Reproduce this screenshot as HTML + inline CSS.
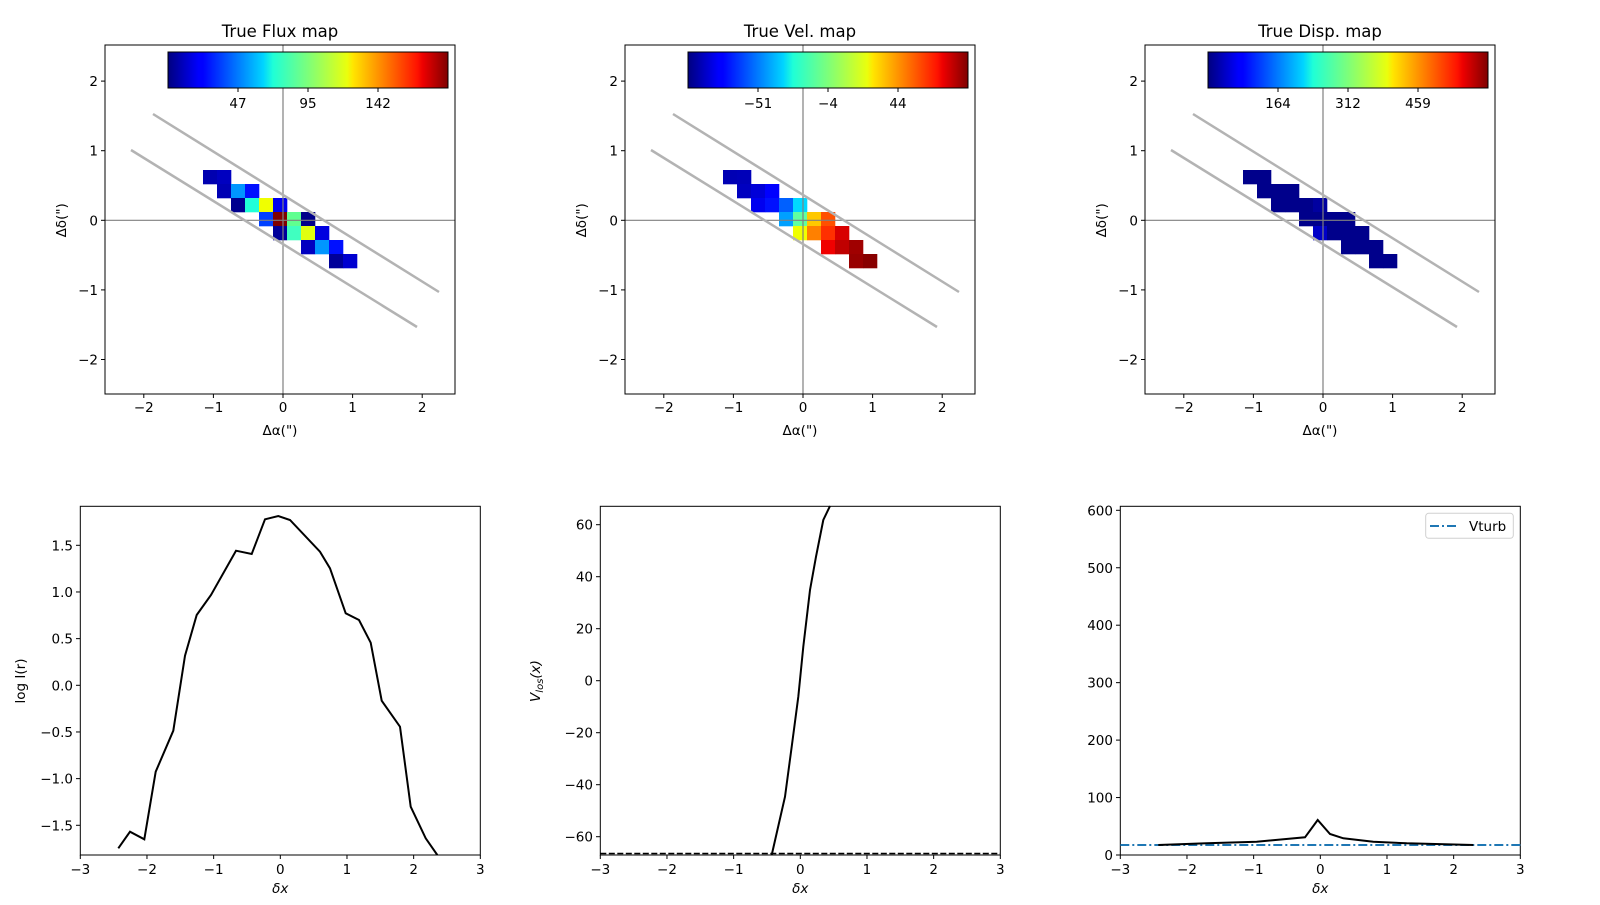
<!DOCTYPE html>
<html><head><meta charset="utf-8"><style>
body{margin:0;background:#fff;width:1600px;height:900px;overflow:hidden}
svg{font-family:"DejaVu Sans","Liberation Sans",sans-serif;font-size:13.5px}
</style></head><body>
<svg id="s" width="1600" height="900" xmlns="http://www.w3.org/2000/svg">
<defs>
<linearGradient id="jet" x1="0" x2="1" y1="0" y2="0">
<stop offset="0" stop-color="#00007f"/><stop offset="0.11" stop-color="#0000ff"/>
<stop offset="0.125" stop-color="#0000ff"/><stop offset="0.34" stop-color="#00d4ff"/>
<stop offset="0.375" stop-color="#1fffd7"/><stop offset="0.5" stop-color="#7dff7a"/>
<stop offset="0.64" stop-color="#eaff0d"/><stop offset="0.66" stop-color="#ffe600"/>
<stop offset="0.89" stop-color="#ff1300"/><stop offset="0.91" stop-color="#ed0000"/>
<stop offset="1" stop-color="#7f0000"/></linearGradient>
</defs>
</svg>
<script>
const S=document.getElementById('s');let h='';
function L(x1,y1,x2,y2,c,w,extra){h+=`<line x1="${x1}" y1="${y1}" x2="${x2}" y2="${y2}" stroke="${c}" stroke-width="${w}" ${extra||''}/>`;}
function T(x,y,t,a,extra){h+=`<text x="${x}" y="${y}" text-anchor="${a||'middle'}" ${extra||''}>${t}</text>`;}
function R(x,y,w,hh,f,extra){h+=`<rect x="${x}" y="${y}" width="${w}" height="${hh}" fill="${f}" ${extra||''}/>`;}
const titles=['True Flux map','True Vel. map','True Disp. map'];
const cbl=[['47','95','142'],['\u221251','\u22124','44'],['164','312','459']];
const cells=[
[[170,203,'#0000b0'],[170,217,'#0000c0'],[184,217,'#0000b4'],[184,231,'#0096ff'],[184,245,'#0010ff'],
[198,231,'#00008f'],[198,245,'#20ffd8'],[198,259,'#f0ff00'],[198,273,'#0000f0'],
[212,259,'#0040ff'],[212,273,'#800000'],[212,287,'#60ff90'],[212,301,'#00008a'],
[226,273,'#00009a'],[226,287,'#40ffc0'],[226,301,'#e0ff10'],[226,315,'#0000e0'],
[240,301,'#0000c0'],[240,315,'#0096ff'],[240,329,'#0010ff'],[254,329,'#00009a'],[254,343,'#0000d0']],
[[170,203,'#0000b4'],[170,217,'#0000b8'],[184,217,'#0000c0'],[184,231,'#0000d8'],[184,245,'#0000ff'],
[198,231,'#0000f0'],[198,245,'#0010ff'],[198,259,'#0060ff'],[198,273,'#00d8ff'],
[212,259,'#00a0ff'],[212,273,'#60ffa0'],[212,287,'#ffc800'],[212,301,'#ff5000'],
[226,273,'#f0ff00'],[226,287,'#ff8000'],[226,301,'#ff3000'],[226,315,'#d80000'],
[240,301,'#f00000'],[240,315,'#c00000'],[240,329,'#a00000'],[254,329,'#980000'],[254,343,'#880000']],
[]];
cells[0].forEach(c=>{let col=(c[0]==198&&c[1]==273)?'#0000a0':(c[0]==226&&c[1]==273)?'#0000c8':'#00008b';cells[2].push([c[0],c[1],col]);});
for(let p=0;p<3;p++){
 const o=p*520;const x0=105+o,x1=455+o,y0=45,y1=394,cx=283+o,cy=220.3,k=69.6;
 cells[p].forEach(c=>R(c[1]+o,c[0],14.3,14.3,c[2]));
 L(cx,y0,cx,y1,'#808080',1.2);L(x0,cy,x1,cy,'#808080',1.2);
 L(153+o,114,439+o,292,'#b3b3b3',2.5);L(131+o,150,417+o,327,'#b3b3b3',2.5);
 R(x0,y0,x1-x0,y1-y0,'none','stroke="#000" stroke-width="1"');
 T((x0+x1)/2,37,titles[p],'middle','font-size="16.5px"');
 for(let i=-2;i<=2;i++){const x=cx+i*k;L(x,y1,x,y1+4,'#000',1);T(x,y1+18,(i<0?'\u2212':'')+Math.abs(i));
  const y=cy-i*k;L(x0-4,y,x0,y,'#000',1);T(x0-7,y+5,(i<0?'\u2212':'')+Math.abs(i),'end');}
 T((x0+x1)/2,435,'\u0394\u03b1(")');
 T(0,0,'\u0394\u03b4(")','middle',`transform="translate(${66+o},${cy}) rotate(-90)"`);
 R(168+o,52,280,36,'url(#jet)','stroke="#000" stroke-width="1"');
 [238,308,378].forEach((x,j)=>{L(x+o,88,x+o,92,'#000',1);T(x+o,108,cbl[p][j]);});
}
// bottom
const bx=[80.3,600.3,1120.3],by0=506.3,by1=855;
function ax(i){R(bx[i],by0,400,by1-by0,'none','stroke="#000" stroke-width="1"');
 for(let v=-3;v<=3;v++){const x=bx[i]+(v+3)*66.67;L(x,by1,x,by1+4,'#000',1);T(x,by1+19,(v<0?'\u2212':'')+Math.abs(v));}
 T(bx[i]+200,893,'\u03b4x','middle','font-style="italic"');}
function poly(pts,ox,c,w,extra){h+=`<polyline fill="none" stroke="${c}" stroke-width="${w}" ${extra||''} points="${pts.map(p=>(p[0]/3+ox).toFixed(1)+','+(480+p[1]/3).toFixed(1)).join(' ')}"/>`;}
ax(0);ax(1);ax(2);
h+=`<clipPath id="c0"><rect x="80" y="506" width="401" height="349"/></clipPath>`;
poly([[355,1105],[390,1055],[433,1078],[467,875],[520,752],[555,527],[590,405],[633,345],[708,212],[755,222],[795,118],[835,108],[870,120],[960,215],[990,265],[1037,400],[1077,420],[1112,488],[1145,662],[1200,740],[1232,980],[1277,1075],[1312,1125]],0,'#000',2,'clip-path="url(#c0)"');
[[1.5,'1.5'],[1,'1.0'],[0.5,'0.5'],[0,'0.0'],[-0.5,'\u22120.5'],[-1,'\u22121.0'],[-1.5,'\u22121.5']].forEach(t=>{const y=685.3-t[0]*93.33;L(76,y,80.3,y,'#000',1);T(73,y+5,t[1],'end');});
T(0,0,'log I(r)','middle','transform="translate(25,681) rotate(-90)"');
// middle
[60,40,20,0,-20,-40,-60].forEach(v=>{const y=680.7-v*2.6;L(596,y,600.3,y,'#000',1);T(593,y+5,(v<0?'\u2212':'')+Math.abs(v),'end');});
L(600.3,853.5,1000.3,853.5,'#000',1.5,'stroke-dasharray="6,2.5"');
poly([[755,1125],[795,950],[815,800],[835,650],[850,500],[870,330],[888,230],[910,120],[930,78]],520,'#000',2);
h+=`<text transform="translate(540,681) rotate(-90)" text-anchor="middle" font-style="italic">V<tspan font-size="10px" dy="3">los</tspan><tspan dy="-3">(x)</tspan></text>`;
// right
[0,100,200,300,400,500,600].forEach(v=>{const y=855-v*0.5745;L(1116,y,1120.3,y,'#000',1);T(1113,y+5,v,'end');});
L(1120.3,845,1520.3,845,'#1f77b4',2,'stroke-dasharray="9,3,2,3"');
poly([[355,1095],[500,1090],[650,1085],[795,1072],[833,1020],[870,1062],[910,1075],[1000,1085],[1100,1090],[1300,1095]],1040,'#000',2);
R(1425.7,513.3,87.6,25,'#fff','rx="3" stroke="#d0d0d0" stroke-width="1"');
L(1430,526,1458,526,'#1f77b4',2,'stroke-dasharray="9,3,2,3"');
T(1469,531,'Vturb','start');
S.insertAdjacentHTML('beforeend',h);
</script>
</body></html>
